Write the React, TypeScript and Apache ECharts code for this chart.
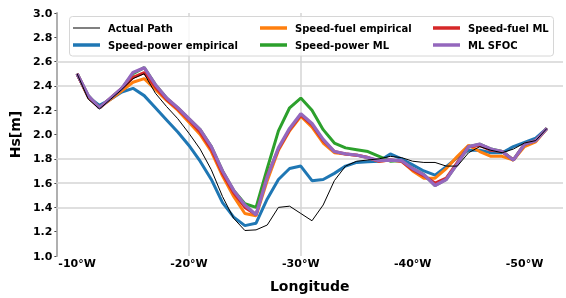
import React, { useEffect, useRef } from 'react';
import * as echarts from 'echarts';

const longitudes = [
  -10, -11, -12, -13, -14, -15, -16, -17, -18, -19, -20, -21, -22, -23, -24, -25, -26, -27, -28, -29, -30,
  -31, -32, -33, -34, -35, -36, -37, -38, -39, -40, -41, -42, -43, -44, -45, -46, -47, -48, -49, -50, -51, -52,
];

const actualPath = [
  2.5, 2.29, 2.21, 2.29, 2.37, 2.46, 2.5, 2.34, 2.23, 2.13, 2.01, 1.88, 1.71, 1.49, 1.31, 1.21, 1.215, 1.255, 1.4, 1.41, 1.35,
  1.29, 1.42, 1.62, 1.74, 1.78, 1.79, 1.8, 1.82, 1.81, 1.78, 1.77, 1.77, 1.74, 1.74, 1.85, 1.9, 1.87, 1.85, 1.88, 1.93, 1.95, 2.05,
];
const speedPowerEmpirical = [
  2.5, 2.31, 2.24, 2.29, 2.35, 2.38, 2.32, 2.22, 2.12, 2.02, 1.91, 1.78, 1.63, 1.44, 1.32, 1.25, 1.27, 1.47, 1.63, 1.72, 1.74,
  1.62, 1.63, 1.68, 1.74, 1.77, 1.775, 1.78, 1.84, 1.8, 1.75, 1.7, 1.665, 1.735, 1.81, 1.87, 1.87, 1.85, 1.85, 1.9, 1.935, 1.97, 2.05,
];
const speedFuelEmpirical = [
  2.5, 2.31, 2.22, 2.29, 2.36, 2.43, 2.46, 2.37, 2.28, 2.2, 2.1, 2.0, 1.86, 1.66, 1.49, 1.35, 1.33, 1.62, 1.87, 2.03, 2.15,
  2.06, 1.93, 1.85, 1.84, 1.83, 1.81, 1.78, 1.79, 1.78, 1.7, 1.64, 1.64, 1.72, 1.82, 1.91, 1.86, 1.82, 1.82, 1.79, 1.9, 1.94, 2.05,
];
const speedPowerML = [
  2.5, 2.32, 2.22, 2.3, 2.38, 2.5, 2.55, 2.41, 2.3, 2.22, 2.13, 2.04, 1.9, 1.7, 1.54, 1.43, 1.4, 1.72, 2.03, 2.22, 2.3,
  2.2, 2.04, 1.93, 1.89, 1.875, 1.86, 1.82, 1.78, 1.785, 1.72, 1.67, 1.58, 1.63, 1.76, 1.9, 1.92, 1.88, 1.86, 1.79, 1.92, 1.95, 2.05,
];
const speedFuelML = [
  2.5, 2.31, 2.22, 2.3, 2.38, 2.47, 2.51, 2.39, 2.29, 2.21, 2.12, 2.02, 1.88, 1.68, 1.52, 1.4, 1.34, 1.66, 1.88, 2.04, 2.16,
  2.08, 1.95, 1.86, 1.84, 1.83, 1.81, 1.78, 1.79, 1.78, 1.71, 1.66, 1.6, 1.64, 1.77, 1.9, 1.91, 1.87, 1.86, 1.79, 1.92, 1.95, 2.05,
];
const mlSfoc = [
  2.5, 2.32, 2.22, 2.3, 2.38, 2.51, 2.55, 2.41, 2.3, 2.22, 2.13, 2.04, 1.9, 1.7, 1.54, 1.42, 1.34, 1.65, 1.89, 2.05, 2.17,
  2.09, 1.96, 1.86, 1.84, 1.83, 1.81, 1.785, 1.79, 1.785, 1.72, 1.67, 1.58, 1.63, 1.76, 1.9, 1.92, 1.88, 1.86, 1.79, 1.92, 1.95, 2.05,
];

const hGridValues = [1.4, 1.6, 1.8, 2.4, 2.6];
const vGridValues = [-20, -30];

const FONT = "'DejaVu Sans', sans-serif";

const pts = (vals: number[]) => longitudes.map((x, i) => [x, vals[i]]);

export default function App() {
  const ref = useRef<HTMLDivElement>(null);
  useEffect(() => {
    const chart = echarts.init(ref.current!, null, { renderer: 'svg' });
    const legendText = { fontFamily: FONT, fontWeight: 'bold' as const, fontSize: 10, color: '#000', lineHeight: 12, padding: [0, 0, 0, 3] };
    const legendBase = {
      orient: 'vertical' as const,
      top: 22,
      padding: 0,
      itemWidth: 27,
      itemHeight: 3.5,
      itemGap: 5,
      icon: 'rect',
      textStyle: legendText,
      selectedMode: false,
    };
    const series: any[] = [
      {
        name: 'Speed-power empirical', type: 'line', data: pts(speedPowerEmpirical), symbol: 'none',
        lineStyle: { width: 3, color: '#1f77b4' }, itemStyle: { color: '#1f77b4' },
        markLine: {
          silent: true, z: 1, symbol: ['none', 'none'], label: { show: false },
          lineStyle: { color: '#d4d4d4', type: 'solid', width: 1.5 },
          emphasis: { disabled: true },
          data: [
            ...hGridValues.map((v) => ({ yAxis: v })),
            ...vGridValues.map((v) => ({ xAxis: v })),
          ],
        },
      },
      { name: 'Speed-fuel empirical', type: 'line', data: pts(speedFuelEmpirical), symbol: 'none', lineStyle: { width: 3, color: '#ff7f0e' }, itemStyle: { color: '#ff7f0e' } },
      { name: 'Speed-power ML', type: 'line', data: pts(speedPowerML), symbol: 'none', lineStyle: { width: 3, color: '#2ca02c' }, itemStyle: { color: '#2ca02c' } },
      { name: 'Speed-fuel ML', type: 'line', data: pts(speedFuelML), symbol: 'none', lineStyle: { width: 3, color: '#d62728' }, itemStyle: { color: '#d62728' } },
      { name: 'ML SFOC', type: 'line', data: pts(mlSfoc), symbol: 'none', lineStyle: { width: 3.3, color: '#9467bd' }, itemStyle: { color: '#9467bd' } },
      { name: 'Actual Path', type: 'line', data: pts(actualPath), symbol: 'none', lineStyle: { width: 1, color: '#000' }, itemStyle: { color: '#000' } },
    ];
    chart.setOption({
      animation: false,
      grid: { left: 52, right: 0, top: 13, bottom: 39, containLabel: false },
      graphic: [
        {
          type: 'rect', z: 3, silent: true,
          shape: { x: 69.5, y: 16.5, width: 484, height: 39.5, r: 3 },
          style: { fill: 'rgba(255,255,255,0.8)', stroke: '#d6d6d6', lineWidth: 1 },
        },
      ],
      legend: [
        { ...legendBase, left: 73, data: [{ name: 'Actual Path', icon: 'path://M0 0H27V1H0Z' }, 'Speed-power empirical'] },
        { ...legendBase, left: 260, data: ['Speed-fuel empirical', 'Speed-power ML'] },
        { ...legendBase, left: 433, data: ['Speed-fuel ML', 'ML SFOC'] },
      ],
      xAxis: {
        type: 'value', inverse: true, min: -53.44, max: -8.15, splitNumber: 5,
        name: 'Longitude', nameLocation: 'middle', nameGap: 23,
        nameTextStyle: { fontFamily: FONT, fontWeight: 'bold', fontSize: 14, color: '#000' },
        axisLine: { show: false }, axisTick: { show: false }, splitLine: { show: false },
        axisLabel: {
          margin: 2, fontFamily: FONT, fontWeight: 'bold', fontSize: 11, color: '#000',
          formatter: (v: number) => (Math.abs(v % 10) < 1e-6 ? `${v}°W` : ''),
        },
      },
      yAxis: {
        type: 'value', min: 1.0, max: 3.0, interval: 0.2,
        name: 'Hs[m]', nameLocation: 'middle', nameGap: 30, nameRotate: 90,
        nameTextStyle: { fontFamily: FONT, fontWeight: 'bold', fontSize: 14, color: '#000' },
        axisLine: { show: true, lineStyle: { color: '#b0b0b0', width: 2 } },
        axisTick: { show: true, length: 2, lineStyle: { color: '#444', width: 1 } },
        splitLine: { show: false },
        axisLabel: {
          margin: 4, fontFamily: FONT, fontWeight: 'bold', fontSize: 11, color: '#000',
          formatter: (v: number) => v.toFixed(1),
        },
      },
      series,
    });
    return () => chart.dispose();
  }, []);
  return <div ref={ref} style={{ position: 'fixed', left: 0, top: 0, width: 566, height: 298 }} />;
}
